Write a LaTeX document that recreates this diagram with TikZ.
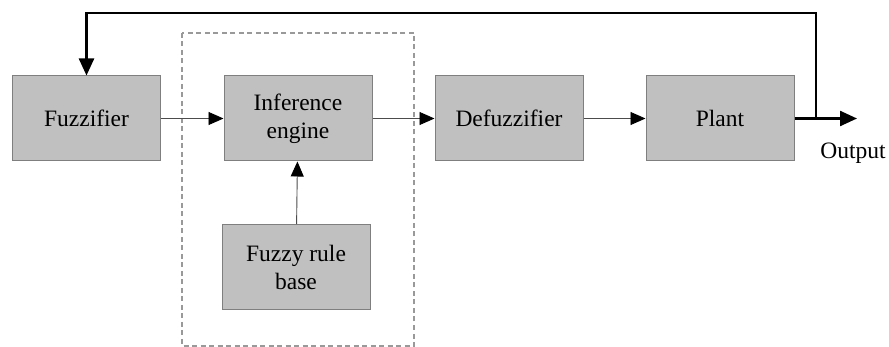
\documentclass[tikz,border=0pt]{standalone}
\usepackage{fontspec}
\setmainfont{Liberation Serif}
\usetikzlibrary{arrows.meta}
\definecolor{boxfill}{HTML}{C0C0C0}
\definecolor{boxline}{HTML}{7F7F7F}
\definecolor{dashline}{HTML}{999999}
\tikzset{
  block/.style={draw=boxline, fill=boxfill, line width=1pt, minimum width=148pt,
    minimum height=85pt, inner sep=0pt, align=center,
    font=\fontsize{23.5}{28}\selectfont},
  flow/.style={draw=black!70, line width=0.9pt,
    -{Triangle[length=15pt,width=13pt,fill=black,color=black]}},
  feedback/.style={draw=black, line width=2.4pt},
  fbarrow/.style={feedback, -{Triangle[length=17pt,width=15pt]}},
  groupbox/.style={draw=dashline, line width=1.2pt, dash pattern=on 5pt off 3.5pt},
}
\begin{document}
\begin{tikzpicture}[x=1pt,y=-1pt]
  \useasboundingbox (0,0) rectangle (889,347);
  % dashed frame around the inference part
  \draw[groupbox] (182,33) rectangle (414,346);
  % blocks
  \node[block] (fuzz)  at (86.5,118.5) {Fuzzifier};
  \node[block] (infer) at (298,118.5) {Inference\\engine};
  \node[block] (defuz) at (509,118.5) {Defuzzifier};
  \node[block] (plant) at (720,118.5) {Plant};
  \node[block] (rules) at (296,267) {Fuzzy rule\\base};
  % output and feedback points
  \coordinate (out) at (857,118.5);
  \coordinate (branch) at (816,118.5);
  \coordinate (top) at (86.5,13);
  \node[font=\fontsize{23.5}{28}\selectfont] (outlbl) at (853,153) {Output};
  % forward path
  \draw[flow] (fuzz) -- (infer);
  \draw[flow] (infer) -- (defuz);
  \draw[flow] (defuz) -- (plant);
  \draw[flow] (rules) -- (infer);
  % output line
  \draw[fbarrow] (plant.east) -- (out);
  % feedback loop
  \draw[fbarrow] (branch) -- (branch |- top) -- (top) -- (fuzz.north);
\end{tikzpicture}
\end{document}
